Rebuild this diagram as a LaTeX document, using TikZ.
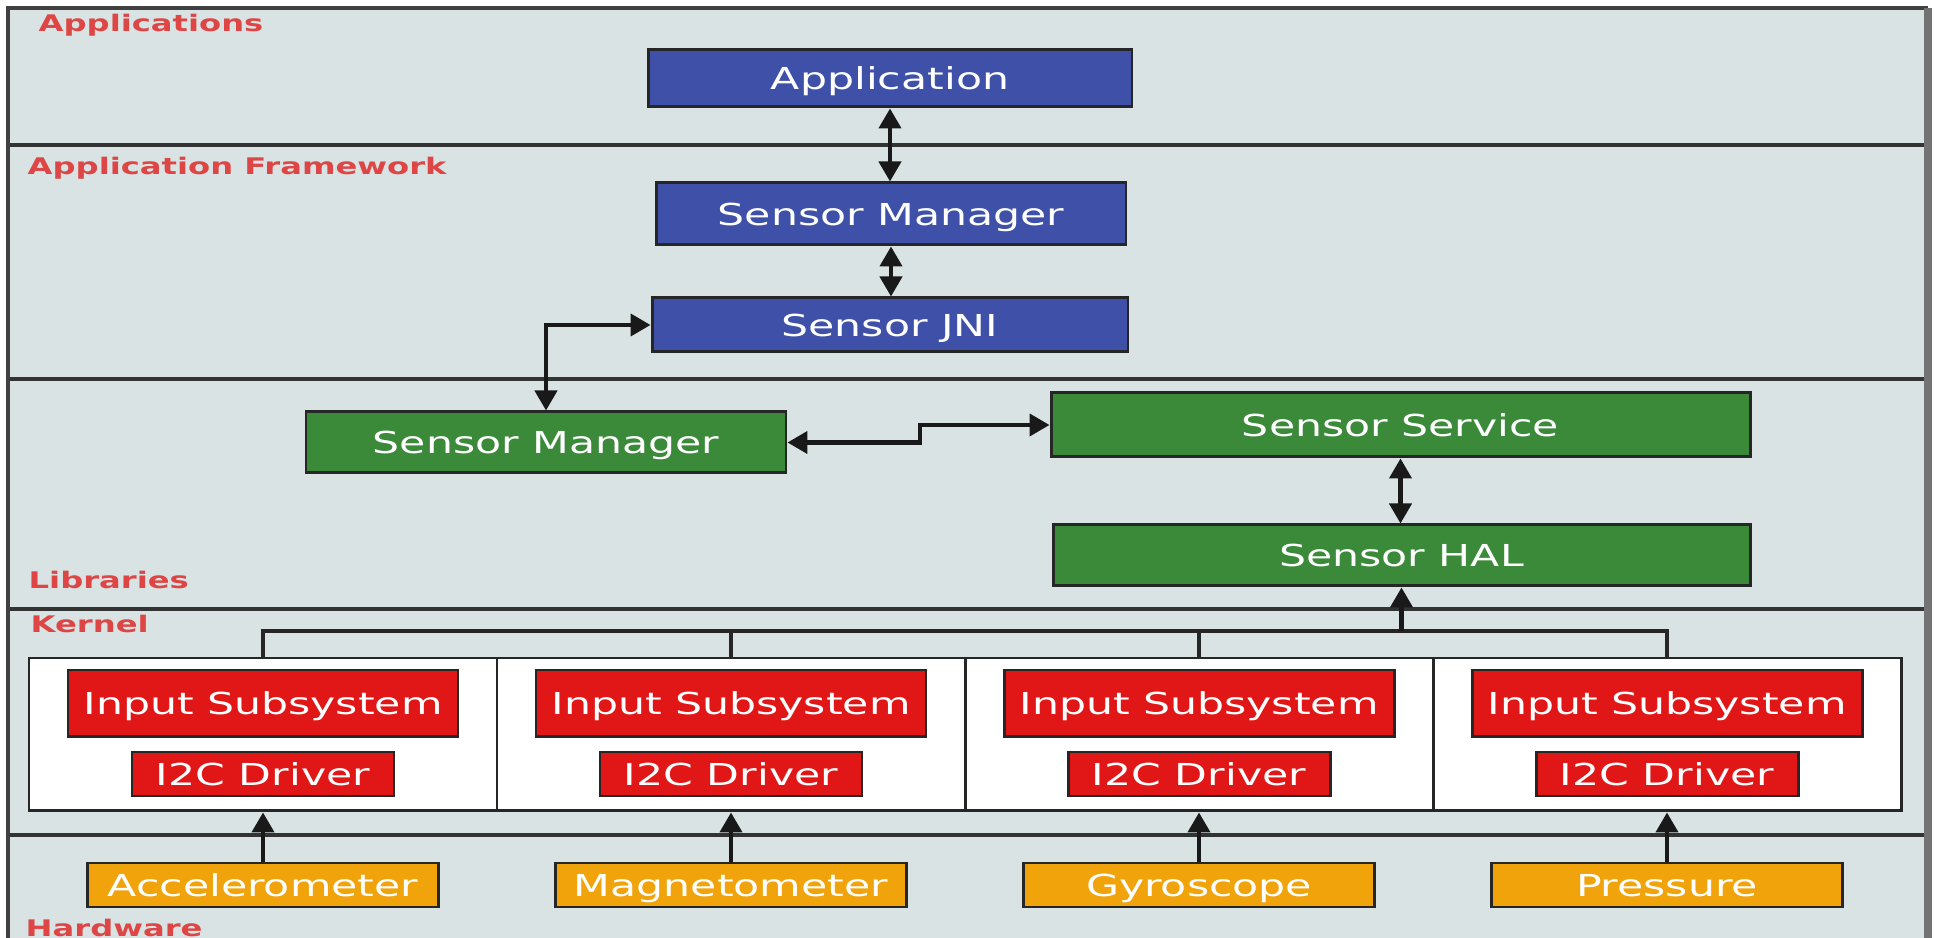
\documentclass[tikz,border=0pt]{standalone}
\usepackage{fontspec}
\setmainfont[FakeStretch=1.41]{DejaVu Sans}
\usetikzlibrary{arrows.meta}

\definecolor{layerbg}{RGB}{217,227,227}
\definecolor{appblue}{RGB}{62,80,168}
\definecolor{libgreen}{RGB}{58,138,58}
\definecolor{krnred}{RGB}{225,22,22}
\definecolor{hworange}{RGB}{240,163,10}
\definecolor{lblred}{RGB}{222,70,70}

\begin{document}
\begin{tikzpicture}[
  x=0.1mm, y=-0.1mm,
  >={Triangle[length=2mm,width=2.2mm]},
  blk/.style     = {draw=black!85, line width=0.85pt, inner sep=0pt, text=white,
                    text height=6.3pt, text depth=0pt,
                    font=\fontsize{8.6}{10}\selectfont},
  appbox/.style  = {blk, fill=appblue},
  libbox/.style  = {blk, fill=libgreen},
  krnbox/.style  = {blk, fill=krnred, minimum width=39mm, minimum height=6.7mm},
  drvbox/.style  = {blk, fill=krnred, minimum width=26.2mm, minimum height=4.4mm},
  hwbox/.style   = {blk, fill=hworange, minimum width=35.1mm, minimum height=4.4mm},
  subsys/.style  = {draw=black!85, line width=0.85pt, fill=white,
                    minimum width=46.8mm, minimum height=15.3mm},
  lyrlbl/.style  = {anchor=base west, inner sep=0pt, text=lblred,
                    font=\fontsize{6.5}{8}\selectfont\bfseries},
  conn/.style    = {line width=1.2pt, black!90},
  bus/.style     = {line width=0.9pt, black!85},
  lyrline/.style = {line width=1pt, black!80},
]
\useasboundingbox (0,0) rectangle (1934,938);

%% ------------------------------------------------------------------ LAYERS
\fill[white] (0,0) rectangle (1934,938);
\fill[layerbg] (8,8) rectangle (1928,938);
\foreach \y in {145,379,609,835}
  \draw[lyrline] (8,\y) -- (1928,\y);
\draw[line width=1.3pt, black!75] (8,938) -- (8,8) -- (1928,8);
\draw[line width=2pt, black!55] (1928,8) -- (1928,938);

\node[lyrlbl] (lblapps) at (38,32)  {Applications};
\node[lyrlbl] (lblfw)   at (27,175) {Application Framework};
\node[lyrlbl] (lbllib)  at (28,589) {Libraries};
\node[lyrlbl] (lblkrn)  at (30,633) {Kernel};
\node[lyrlbl] (lblhw)   at (25,937) {Hardware};

%% ------------------------------------------------------------------ JAVA SIDE
\node[appbox, minimum width=48.4mm, minimum height=5.7mm] (app)  at (890,78.5) {Application};
\node[appbox, minimum width=47mm,   minimum height=6.2mm] (smgr) at (891,214)  {Sensor Manager};
\node[appbox, minimum width=47.6mm, minimum height=5.4mm] (jni)  at (890,325)  {Sensor JNI};

%% ------------------------------------------------------------------ NATIVE SIDE
\node[libbox, minimum width=48mm,   minimum height=6.1mm] (lmgr) at (546,442.5)    {Sensor Manager};
\node[libbox, minimum width=69.9mm, minimum height=6.4mm] (svc)  at (1400.5,425)   {Sensor Service};
\node[libbox, minimum width=69.7mm, minimum height=6.1mm] (hal)  at (1401.5,555.5) {Sensor HAL};

\draw[conn,<->] (app.south) -- (app.south |- smgr.north);
\draw[conn,<->] (smgr.south) -- (smgr.south |- jni.north);
\draw[conn,<->] (jni.west) -| (lmgr.north);
\coordinate (jog) at (920,0);
\draw[conn,<->] (lmgr.east) -- (lmgr.east -| jog) |- (svc.west);
\draw[conn,<->] (svc.south) -- (svc.south |- hal.north);

%% ------------------------------------------------------------------ KERNEL + HARDWARE
\foreach \i/\x/\hw in {1/263/Accelerometer, 2/731/Magnetometer, 3/1199/Gyroscope, 4/1667/Pressure}
  {
    \node[subsys] (k\i)   at (\x,734.5) {};
    \node[krnbox] (is\i)  at (\x,703.5) {Input Subsystem};
    \node[drvbox] (drv\i) at (\x,774)   {I2C Driver};
    \node[hwbox]  (hw\i)  at (\x,885)   {\hw};
    \draw[conn,->] (hw\i) -- (k\i);
  }

\coordinate (busjoin) at (hal.south |- 0,631);
\draw[bus] (k1.north) |- (busjoin) -| (k4.north);
\foreach \i in {2,3}
  \draw[bus] (k\i.north) |- (busjoin);
\draw[conn,->] (busjoin) -- (hal.south);

\end{tikzpicture}
\end{document}
